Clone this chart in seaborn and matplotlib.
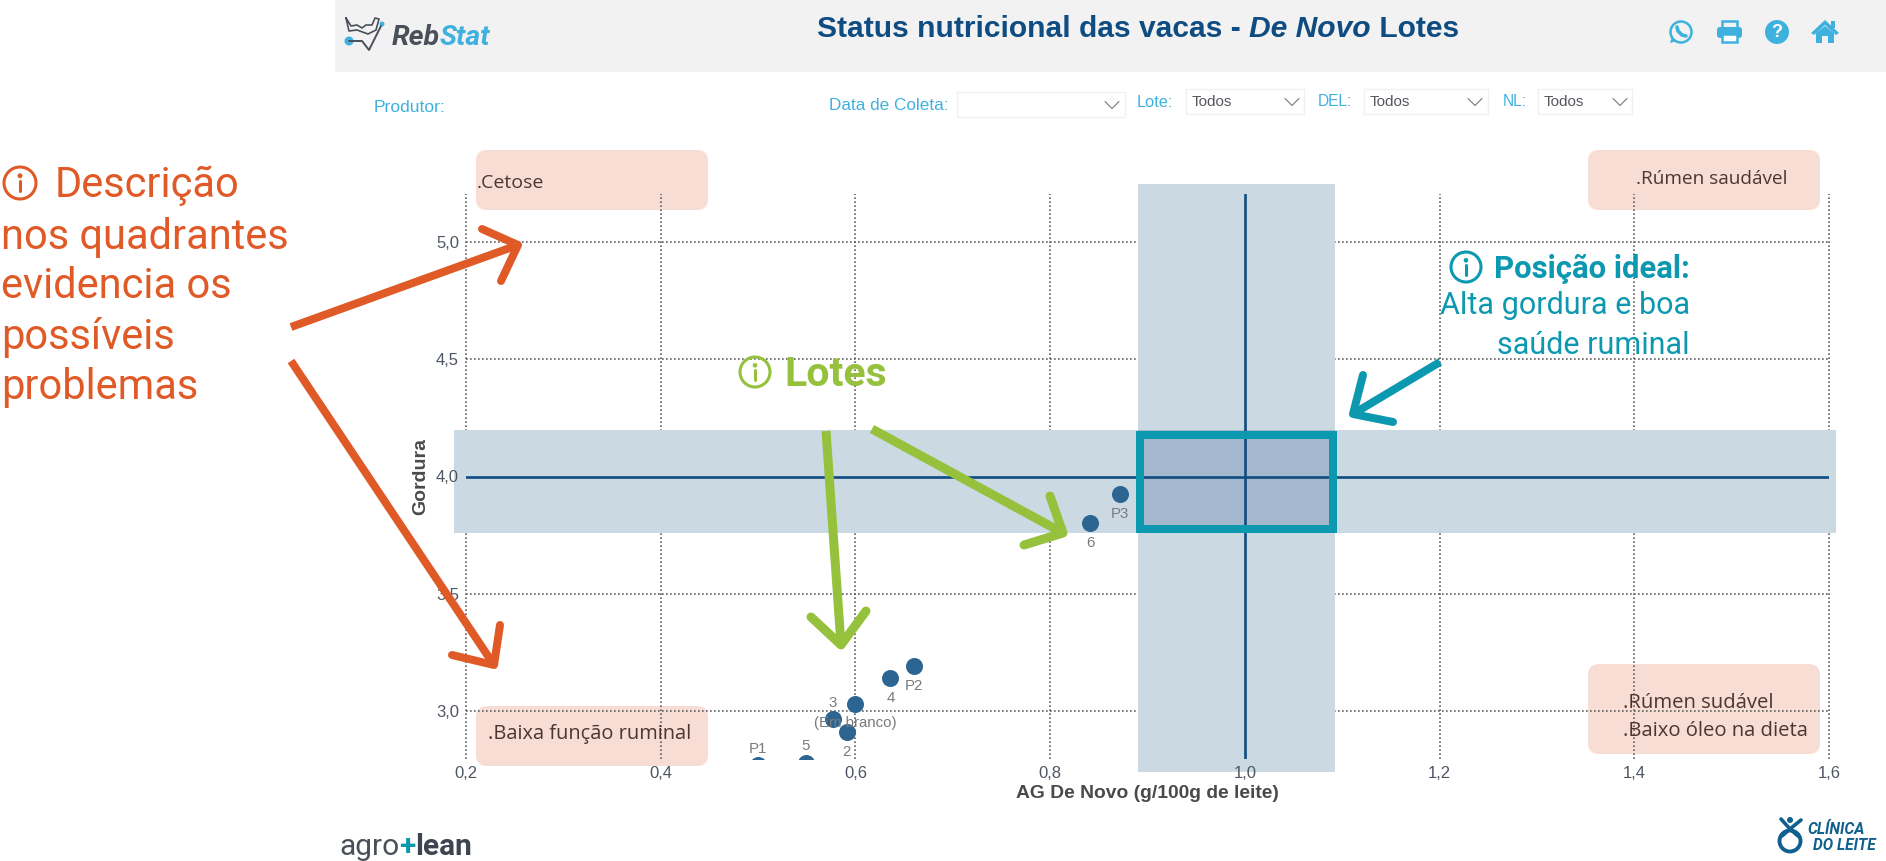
import matplotlib
matplotlib.use("Agg")
import matplotlib.pyplot as plt
import pandas as pd
import seaborn as sns
from matplotlib.patches import Circle, FancyBboxPatch, Polygon, Rectangle
from matplotlib.ticker import FixedLocator, FuncFormatter

# Lot averages: milk fat against de novo fatty acids
lot_labels = ["P2", "4", "(Em branco)", "3", "2", "P1", "5", "P3", "6"]
de_novo = [0.660, 0.636, 0.600, 0.577, 0.591, 0.500, 0.549, 0.872, 0.841]
gordura = [3.19, 3.14, 3.03, 2.965, 2.91, 2.77, 2.78, 3.925, 3.80]
label_above = ["3", "P1", "5"]

x_ticks = [0.2, 0.4, 0.6, 0.8, 1.0, 1.2, 1.4, 1.6]
y_ticks = [3.0, 3.5, 4.0, 4.5, 5.0]
x_limits = (0.2, 1.6)
y_limits = (2.795, 5.205)
ideal_x = (0.89, 1.093)
ideal_y = (3.76, 4.2)
target_x = 1.0
target_y = 4.0

NAVY = "#0f4c81"
POINT = "#2c6591"
SKY = "#3fb1df"
BAND = "#cbd9e3"
OVERLAP = "#a4b9ce"
ORANGE = "#e05a27"
GREEN = "#95c13c"
TEAL = "#0c99b0"
PINK = "#f8ddd4"
NOTE = "#4b3732"
TICK = "#4f5663"
GRID = "#5f5f5f"

W, H = 1886, 861
sns.set_theme(style="white")
plt.rcParams["font.family"] = ["Liberation Sans", "DejaVu Sans"]

fig = plt.figure(figsize=(W / 100, H / 100), dpi=100, facecolor="white")


def page_axes(zorder):
    a = fig.add_axes([0, 0, 1, 1], zorder=zorder)
    a.set_xlim(0, W)
    a.set_ylim(H, 0)
    a.axis("off")
    a.patch.set_alpha(0)
    return a


back = page_axes(0)
front = page_axes(2)
px = 0.72  # points per pixel at this dpi

# ---- page header and filter row
back.add_patch(Rectangle((335, 0), W - 335, 72, fc="#f2f2f2", ec="none"))


def runs(a, pieces, x, y, kern=0, **kw):
    """Write differently styled pieces one after the other on a shared baseline."""
    rend = fig.canvas.get_renderer()
    inv = a.transData.inverted()
    for s, style in pieces:
        t = a.text(x, y, s, va="baseline", ha="left", **{**kw, **style})
        box = t.get_window_extent(rend)
        x = inv.transform((box.x1, box.y0))[0] + kern
    return x


runs(back, [("Status nutricional das vacas - ", {}),
            ("De Novo", {"style": "italic"}),
            (" Lotes", {})],
     817, 37, color=NAVY, fontsize=21.6, fontweight="bold")

logo_font = ["Roboto", "DejaVu Sans"]
runs(back, [("Reb", {"color": "#4a4f5a"}), ("Stat", {"color": SKY})],
     392, 45, kern=-1, fontsize=20.5, style="italic", fontweight="bold", family=logo_font)

# small RebStat mark
back.plot([346, 349, 357, 368, 376, 379, 375, 372, 366, 362, 357, 351, 346],
          [18, 31, 30, 34, 30, 19, 18, 25, 25, 28, 25, 26, 18],
          color="#4a4f5a", lw=1.2)
back.plot([349, 362, 369, 381], [41, 41, 50, 26], color="#4a4f5a", lw=1.4)
back.add_patch(Circle((349, 41), 4.5, fc=SKY, ec="none"))
back.add_patch(Circle((382, 24), 2.5, fc=SKY, ec="none"))

# toolbar icons
wa = (1681, 32)
back.add_patch(Circle(wa, 10.5, fc="none", ec=SKY, lw=1.8))
back.add_patch(Polygon([(1672, 37), (1670, 43), (1677, 41)], fc=SKY, ec="none"))
back.plot([1677, 1678, 1682, 1686], [27, 31, 35, 36], color=SKY, lw=2.6,
          solid_capstyle="round")
back.add_patch(Rectangle((1722, 21), 15, 8, fc="none", ec=SKY, lw=1.8))
back.add_patch(FancyBboxPatch((1717, 27), 25, 11, boxstyle="round,pad=0,rounding_size=3",
                              fc=SKY, ec="none"))
back.add_patch(Rectangle((1722, 34), 15, 8, fc="white", ec=SKY, lw=1.8))
back.add_patch(Circle((1777, 32), 12, fc=SKY, ec="none"))
back.text(1777, 32.5, "?", color="white", fontsize=13, fontweight="bold",
          ha="center", va="center")
back.add_patch(Polygon([(1811, 33), (1825, 20), (1839, 33), (1836, 35), (1825, 25), (1814, 35)],
                       fc=SKY, ec="none"))
back.add_patch(Polygon([(1816, 33), (1825, 26), (1834, 33), (1834, 43), (1828, 43), (1828, 36),
                        (1822, 36), (1822, 43), (1816, 43)], fc=SKY, ec="none"))
back.add_patch(Rectangle((1831, 21), 3.5, 7, fc=SKY, ec="none"))


def dropdown(x0, x1, y0, y1, value, chevron):
    back.add_patch(Rectangle((x0, y0), x1 - x0, y1 - y0, fc="white", ec="#f1f1f1", lw=1))
    ym = (y0 + y1) / 2
    back.plot([chevron - 7, chevron, chevron + 7], [ym - 3, ym + 4, ym - 3], color="#77797f", lw=0.8)
    if value:
        back.text(x0 + 6, ym + 1, value, color="#55575f", fontsize=11, va="center")


for s, x, y, size in [("Produtor:", 374, 107, 12.6), ("Data de Coleta:", 829, 105.5, 12.3),
                      ("Lote:", 1137, 102.5, 11.8), ("DEL:", 1318, 101, 11.2), ("NL:", 1503, 101, 11.2)]:
    back.text(x, y, s, color=SKY, fontsize=size, va="center")
dropdown(957, 1125, 92, 117, "", 1112)
dropdown(1186, 1304, 89, 114, "Todos", 1292)
dropdown(1364, 1488, 89, 114, "Todos", 1475)
dropdown(1538, 1632, 89, 114, "Todos", 1620)

# ---- quadrant descriptions, kept under the grid
for x0, y0, x1, y1 in [(476, 150, 708, 210), (1588, 150, 1820, 210),
                       (476, 706, 708, 766), (1588, 664, 1820, 754)]:
    back.add_patch(FancyBboxPatch((x0, y0), x1 - x0, y1 - y0,
                                  boxstyle="round,pad=0,rounding_size=11",
                                  fc=PINK, ec="none"))

# ---- the chart itself
ax = fig.add_axes([466 / W, 1 - 759 / H, (1829 - 466) / W, (759 - 194) / H], zorder=1)
ax.patch.set_alpha(0)
lots = pd.DataFrame({"lote": lot_labels, "de_novo": de_novo, "gordura": gordura})
ax.set_xlim(*x_limits)
ax.set_ylim(*y_limits)
ax.xaxis.set_major_locator(FixedLocator(x_ticks))
ax.yaxis.set_major_locator(FixedLocator(y_ticks))
comma = FuncFormatter(lambda v, _: f"{v:.1f}".replace(".", ","))
ax.xaxis.set_major_formatter(comma)
ax.yaxis.set_major_formatter(comma)
ax.grid(False)
ax.set_axisbelow(False)
sns.despine(ax=ax, left=True, bottom=True, top=True, right=True)
ax.tick_params(length=0, labelsize=12, labelcolor=TICK, pad=5)

# dotted grid sits under the ideal ranges, tick labels stay above them
dots = dict(color=GRID, lw=1.2, linestyle=(0, (1, 1.4)), zorder=0.5, clip_on=False)
for v in x_ticks:
    ax.axvline(v, **dots)
for v in y_ticks:
    ax.axhline(v, **dots)

# ideal ranges reach a little past the plotting area
ax.add_patch(Rectangle((ideal_x[0], y_limits[0] - 0.055), ideal_x[1] - ideal_x[0],
                       y_limits[1] - y_limits[0] + 0.097,
                       fc=BAND, ec="none", clip_on=False, zorder=1))
ax.add_patch(Rectangle((x_limits[0] - 0.0128, ideal_y[0]), x_limits[1] - x_limits[0] + 0.0195,
                       ideal_y[1] - ideal_y[0], fc=BAND, ec="none", clip_on=False, zorder=1))
ax.add_patch(Rectangle((ideal_x[0], ideal_y[0]), ideal_x[1] - ideal_x[0],
                       ideal_y[1] - ideal_y[0], fc=OVERLAP, ec="none", zorder=1.1))
ax.axvline(target_x, color=NAVY, lw=1.9, zorder=2)
ax.axhline(target_y, color=NAVY, lw=1.9, zorder=2)

sns.scatterplot(data=lots, x="de_novo", y="gordura", ax=ax, color=POINT, s=150,
                edgecolor=POINT, linewidth=0, legend=False, zorder=3)
for name, xv, yv in zip(lot_labels, de_novo, gordura):
    up = name in label_above
    ax.annotate(name, (xv, yv), xytext=(0, 6.5 if up else -9), textcoords="offset points",
                ha="center", va="bottom" if up else "top", fontsize=10.8,
                color="#7a7a7a", zorder=4, annotation_clip=False)

ax.set_xlabel("AG De Novo (g/100g de leite)", fontsize=13.9, fontweight="bold",
              color="#4a4a4a", labelpad=3)
ax.set_ylabel("Gordura", fontsize=14, fontweight="bold", color="#4a4a4a", labelpad=5)

# ---- callouts on top of everything
for s, x, y, size in [(".Cetose", 477, 183, 14), (".Rúmen saudável", 1636, 179, 13.7),
                      (".Baixa função ruminal", 488, 734, 14.4), (".Rúmen sudável", 1623, 703, 14.6),
                      (".Baixo óleo na dieta", 1623, 731, 14.6)]:
    front.text(x, y, s, color=NOTE, fontsize=size, va="center", family=["Open Sans", "DejaVu Sans"])


def info_icon(x, y, r, color, lw):
    front.add_patch(Circle((x, y), r, fc="none", ec=color, lw=lw))
    front.plot([x, x], [y - r * 0.12, y + r * 0.5], color=color, lw=lw)
    front.add_patch(Circle((x, y - r * 0.45), r * 0.13, fc=color, ec=color, lw=0.5))


def arrow(tail, tip, barb_a, barb_b, color, width):
    kw = dict(color=color, lw=width * px, solid_capstyle="butt")
    front.plot([tail[0], tip[0]], [tail[1], tip[1]], **kw)
    kw["solid_capstyle"] = "round"
    kw["solid_joinstyle"] = "round"
    front.plot([barb_a[0], tip[0], barb_b[0]], [barb_a[1], tip[1], barb_b[1]], **kw)


din = ["Roboto", "DejaVu Sans"]
info_icon(20, 183, 16, ORANGE, 2.2)
front.text(55, 186, "Descrição", color=ORANGE, fontsize=30, va="center", family=din)
for s, y in [("nos quadrantes", 237), ("evidencia os", 287), ("possíveis", 337), ("problemas", 387)]:
    front.text(1, y, s, color=ORANGE, fontsize=30, va="center", family=din)
arrow((291, 327), (518, 245), (482, 229), (501, 281), ORANGE, 8)
arrow((291, 361), (494, 665), (452, 655), (500, 625), ORANGE, 8)

info_icon(755, 372, 15, GREEN, 2.2)
front.text(784, 375, "Lotes", color=GREEN, fontsize=29.5, fontweight="bold", va="center", family=din)
arrow((826, 431), (841, 645), (811, 617), (866, 611), GREEN, 9)
arrow((872, 429), (1063, 533), (1050, 496), (1024, 545), GREEN, 9)

info_icon(1466, 267, 15, TEAL, 2.2)
front.text(1690, 269, "Posição ideal:", color=TEAL, fontsize=22.4, fontweight="bold",
           ha="right", va="center", family=din)
front.text(1690, 306, "Alta gordura e boa", color=TEAL, fontsize=22, ha="right", va="center", family=din)
front.text(1690, 345, "saúde ruminal", color=TEAL, fontsize=22, ha="right", va="center", family=din)
arrow((1440, 362), (1353, 414), (1363, 375), (1393, 422), TEAL, 8)
front.add_patch(Rectangle((1140, 435), 193, 94, fc="none", ec=TEAL, lw=8 * px, joinstyle="miter"))

# ---- footer marks
runs(front, [("agro", {"color": "#4a4f5a"}),
             ("+", {"color": TEAL, "fontweight": "bold"}),
             ("lean", {"color": "#3e4450", "fontweight": "bold"})],
     339, 855, fontsize=21.5, family=din)

front.add_patch(Circle((1790, 841), 10.5, fc="none", ec="#10608f", lw=2.8))
front.plot([1781, 1790, 1801], [819, 829, 820], color="#10608f", lw=2.6)
front.plot([1790, 1782], [829, 836], color="#10608f", lw=2.6)
front.plot([1790, 1798], [829, 836], color="#10608f", lw=2.6)
front.add_patch(Circle((1790, 820), 3, fc="#10608f", ec="none"))
front.text(1807, 829, "CLÍNICA", color="#10608f", fontsize=11.2, style="italic", fontweight="bold",
           va="center", family=logo_font)
front.text(1813, 846, "DO LEITE", color="#10608f", fontsize=11.2, style="italic", fontweight="bold",
           va="center", family=logo_font)

fig.savefig("out.png", dpi=100, facecolor="white")
